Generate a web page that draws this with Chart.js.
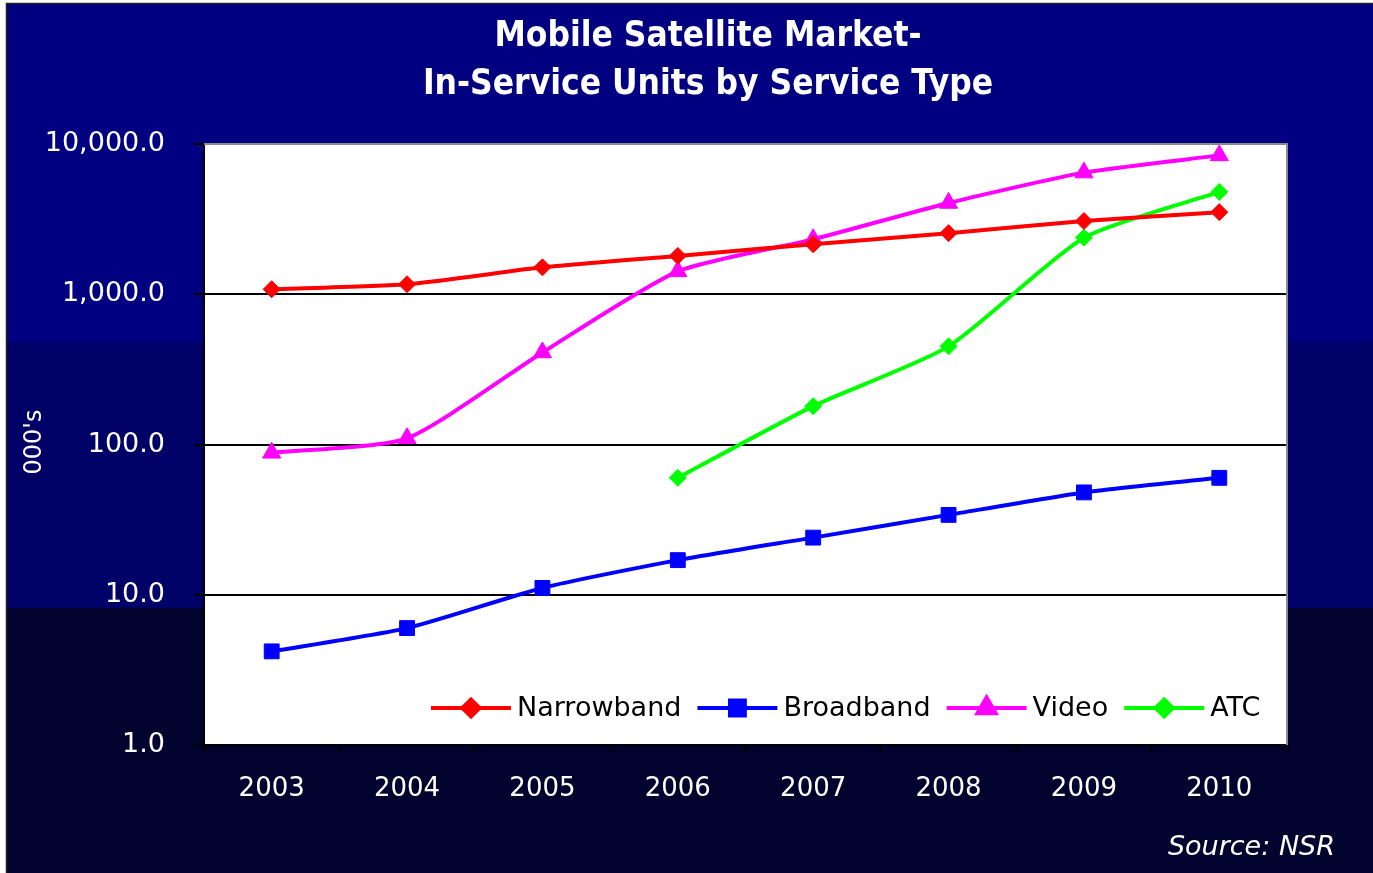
<!DOCTYPE html>
<html>
<head>
<meta charset="utf-8">
<script src="https://cdn.jsdelivr.net/npm/chart.js@4"></script>
<style>
html,body{margin:0;padding:0;background:#fff;}
#wrap{width:1373px;height:873px;position:relative;}
</style>
</head>
<body>
<div id="wrap"><canvas id="c"></canvas></div>
<script>
const years = ['2003','2004','2005','2006','2007','2008','2009','2010'];
const narrowband = [1080, 1166, 1510, 1800, 2150, 2550, 3070, 3520];
const broadband = [4.2, 6.0, 11.1, 17.0, 24.0, 34.0, 48.0, 60.0];
const video = [88, 110, 410, 1420, 2320, 4050, 6450, 8400];
const atc = [null, null, null, 60, 180, 450, 2380, 4800];
const yTickValues = [1, 10, 100, 1000, 10000];
const seriesNames = ['Narrowband', 'Broadband', 'Video', 'ATC'];
const titleLines = ['Mobile Satellite Market-', 'In-Service Units by Service Type'];
const yAxisTitle = "000's";
const sourceText = 'Source: NSR';

const FONT = "'DejaVu Sans', Verdana, sans-serif";

const bgPlugin = {
  id: 'bg',
  beforeDraw(chart) {
    const ctx = chart.ctx, W = chart.width, H = chart.height;
    ctx.save();
    ctx.fillStyle = '#ffffff';
    ctx.fillRect(0, 0, W, H);
    ctx.fillStyle = '#000080';
    ctx.fillRect(7, 4, W - 7, 338);
    ctx.fillStyle = '#000066';
    ctx.fillRect(7, 342, W - 7, 266);
    ctx.fillStyle = '#02022e';
    ctx.fillRect(7, 608, W - 7, H - 608);
    ctx.strokeStyle = '#222';
    ctx.lineWidth = 1.5;
    ctx.beginPath();
    ctx.moveTo(6.5, H); ctx.lineTo(6.5, 3.5); ctx.lineTo(W, 3.5);
    ctx.stroke();
    const a = chart.chartArea;
    ctx.fillStyle = '#ffffff';
    ctx.fillRect(a.left, a.top, a.right - a.left, a.bottom - a.top);
    ctx.restore();
  },
  beforeDatasetsDraw(chart) {
    const ctx = chart.ctx, a = chart.chartArea;
    ctx.save();
    ctx.strokeStyle = '#8a8a8a';
    ctx.lineWidth = 2;
    ctx.beginPath();
    ctx.moveTo(a.left, a.top); ctx.lineTo(a.right, a.top); ctx.lineTo(a.right, a.bottom);
    ctx.stroke();
    ctx.restore();
  },
  afterDraw(chart) {
    const ctx = chart.ctx;
    ctx.save();
    ctx.fillStyle = '#ffffff';
    ctx.textAlign = 'center';
    ctx.textBaseline = 'middle';
    ctx.font = "bold 35px 'DejaVu Sans Condensed', 'Liberation Sans Narrow', " + FONT;
    ctx.fillText(titleLines[0], 708, 37);
    ctx.fillText(titleLines[1], 708, 85);
    ctx.font = "24px " + FONT;
    ctx.save();
    ctx.translate(35, 442);
    ctx.rotate(-Math.PI / 2);
    ctx.fillText(yAxisTitle, 0, 0);
    ctx.restore();
    ctx.font = "italic 27px " + FONT;
    ctx.textAlign = 'right';
    ctx.fillText(sourceText, 1335, 848);
    ctx.font = "27px " + FONT;
    ctx.textAlign = 'left';
    let x = 431;
    const y = 708;
    chart.data.datasets.forEach((ds) => {
      ctx.strokeStyle = ds.borderColor;
      ctx.lineWidth = 4;
      ctx.beginPath();
      ctx.moveTo(x, y); ctx.lineTo(x + 80, y);
      ctx.stroke();
      ctx.fillStyle = ds.pointBackgroundColor;
      Chart.helpers.drawPoint(ctx, {
        pointStyle: ds.pointStyle, radius: ds.pointRadius, borderWidth: 1, rotation: 0
      }, x + 40, y);
      ctx.fillStyle = '#000000';
      ctx.textBaseline = 'middle';
      ctx.fillText(ds.label, x + 86, y + 1);
      x += 86 + ctx.measureText(ds.label).width + 16;
    });
    ctx.restore();
  }
};

function mk(label, data, color, style, r) {
  return {
    label, data,
    borderColor: color,
    backgroundColor: color,
    pointBackgroundColor: color,
    pointBorderColor: color,
    pointStyle: style,
    pointRadius: r,
    pointBorderWidth: 1,
    borderWidth: 4,
    tension: 0.2,
    spanGaps: false
  };
}

new Chart(document.getElementById('c'), {
  type: 'line',
  data: {
    labels: years,
    datasets: [
      mk(seriesNames[0], narrowband, '#ff0000', 'rectRot', 8.5),
      mk(seriesNames[1], broadband, '#0000ff', 'rect', 10.5),
      mk(seriesNames[2], video, '#ff00ff', 'triangle', 10.5),
      mk(seriesNames[3], atc, '#00ff00', 'rectRot', 8.5)
    ]
  },
  options: {
    responsive: true,
    maintainAspectRatio: false,
    animation: false,
    devicePixelRatio: 1,
    layout: { padding: { left: 0, right: 86, top: 144, bottom: 0 } },
    plugins: {
      legend: { display: false },
      title: { display: false },
      tooltip: { enabled: false }
    },
    scales: {
      x: {
        type: 'category',
        offset: true,
        afterFit(s) { s.height = 128; },
        grid: {
          offset: true,
          drawOnChartArea: false,
          drawTicks: true,
          tickLength: 8,
          tickColor: '#000000',
          tickWidth: 2
        },
        border: { display: true, color: '#000000', width: 2 },
        ticks: {
          color: '#ffffff',
          font: { family: FONT, size: 26 },
          padding: 21,
          maxRotation: 0,
          autoSkip: false
        }
      },
      y: {
        type: 'logarithmic',
        min: 1,
        max: 10000,
        afterFit(s) { s.width = 204; },
        afterBuildTicks(s) { s.ticks = yTickValues.map(v => ({ value: v })); },
        grid: {
          color: (c) => (c.tick && (c.tick.value === 1 || c.tick.value === 10000)) ? 'rgba(0,0,0,0)' : '#000000',
          lineWidth: 2,
          drawTicks: true,
          tickLength: 10,
          tickColor: '#000000',
          tickWidth: 2
        },
        border: { display: true, color: '#000000', width: 2 },
        ticks: {
          color: '#ffffff',
          font: { family: FONT, size: 27 },
          padding: 29,
          callback: (v) => Number(v).toLocaleString('en-US', { minimumFractionDigits: 1, maximumFractionDigits: 1 })
        }
      }
    }
  },
  plugins: [bgPlugin]
});
</script>
</body>
</html>
